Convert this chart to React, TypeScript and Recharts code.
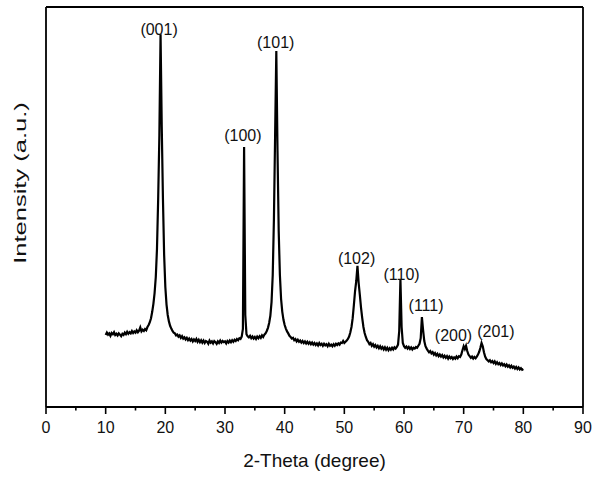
import React from "react";
import {
  LineChart,
  Line,
  XAxis,
  YAxis,
  ReferenceLine,
  ReferenceDot,
} from "recharts";

// scan starts at 10 deg, one reading every 0.2 deg
const scanStart = 10;
const scanStep = 0.2;

// intensity (a.u.), split per 10 degrees
const scan10to20 = [
  180, 186, 181, 184, 178, 185, 182, 187, 180, 183,
  179, 184, 181, 177, 183, 180, 186, 182, 188, 183,
  187, 184, 190, 185, 189, 186, 192, 187, 191, 199,
  189, 193, 190, 195, 192, 200, 205, 212, 222, 238,
  258, 285, 325, 395, 520, 680, 932, 700, 520, 380,
];
const scan20to30 = [
  300, 256, 230, 214, 203, 196, 190, 186, 184, 179,
  181, 176, 179, 173, 177, 171, 174, 169, 173, 167,
  171, 166, 170, 164, 169, 165, 170, 163, 168, 162,
  167, 161, 166, 160, 165, 163, 158, 166, 161, 164,
  159, 165, 162, 158, 164, 160, 166, 161, 165, 162,
];
const scan30to40 = [
  164, 159, 165, 161, 166, 162, 167, 163, 168, 165,
  170, 167, 172, 170, 176, 195, 650, 230, 182, 177,
  174, 178, 172, 176, 171, 175, 170, 176, 172, 177,
  173, 179, 175, 181, 184, 190, 198, 210, 228, 262,
  330, 470, 680, 890, 640, 440, 330, 270, 238, 218,
];
const scan40to50 = [
  205, 196, 189, 184, 178, 175, 171, 173, 167, 170,
  164, 168, 163, 166, 161, 165, 160, 164, 159, 163,
  158, 162, 157, 161, 156, 160, 155, 159, 154, 160,
  155, 158, 153, 158, 154, 157, 152, 158, 153, 156,
  152, 157, 153, 158, 155, 159, 156, 161, 160, 165,
];
const scan50to60 = [
  160, 163, 166, 170, 176, 186, 200, 222, 255, 290,
  315, 353, 310, 280, 248, 222, 200, 185, 175, 167,
  163, 157, 160, 153, 157, 151, 155, 149, 153, 147,
  152, 146, 150, 144, 149, 143, 148, 142, 147, 143,
  148, 144, 149, 146, 150, 156, 190, 320, 200, 160,
];
const scan60to70 = [
  152, 148, 151, 146, 150, 145, 149, 144, 148, 146,
  150, 148, 153, 158, 172, 225, 192, 165, 152, 146,
  141, 137, 140, 134, 137, 131, 135, 129, 133, 127,
  131, 126, 130, 124, 128, 123, 127, 121, 126, 122,
  125, 120, 124, 121, 126, 122, 127, 125, 131, 142,
];
const scan70to80 = [
  152, 145, 153, 140, 131, 127, 123, 126, 121, 125,
  122, 126, 131, 138, 148, 160, 152, 137, 126, 120,
  117, 114, 117, 112, 115, 110, 114, 108, 112, 107,
  110, 105, 109, 104, 107, 102, 106, 101, 104, 99,
  103, 98, 101, 96, 100, 95, 99, 94, 97, 93,
  95,
];

const intensity = [
  ...scan10to20,
  ...scan20to30,
  ...scan30to40,
  ...scan40to50,
  ...scan50to60,
  ...scan60to70,
  ...scan70to80,
];

const data = intensity.map((v, i) => ({
  angle: +(scanStart + i * scanStep).toFixed(1),
  counts: v,
}));

// reflections and where their labels sit (degree, intensity)
const peakNames = ["(001)", "(100)", "(101)", "(102)", "(110)", "(111)", "(200)", "(201)"];
const peakLabelAngle = [18.95, 33.0, 38.5, 52.05, 59.6, 63.7, 68.3, 75.4];
const peakLabelLevel = [945, 680, 912, 372, 332, 254, 180, 189];

const xTicks = [0, 5, 10, 15, 20, 25, 30, 35, 40, 45, 50, 55, 60, 65, 70, 75, 80, 85, 90];

const font = "'Liberation Sans', Arial, sans-serif";

const AngleTick = (props: any) => {
  const { x, y, payload } = props;
  const major = payload.value % 10 === 0;
  return (
    <g>
      <line x1={x} y1={y} x2={x} y2={y + (major ? 7 : 3.5)} stroke="#000" strokeWidth={1.6} />
      {major && (
        <text x={x} y={y + 20} dy="0.35em" textAnchor="middle" fontSize={16} fontFamily={font} fill="#111">
          {payload.value}
        </text>
      )}
    </g>
  );
};

// the y title in the figure is drawn stretched along its length
const IntensityTitle = () => (
  <text
    transform="translate(20 183) rotate(-90) scale(1.5 1)"
    textAnchor="middle"
    dominantBaseline="central"
    fontSize={17}
    fontFamily={font}
    fill="#111"
  >
    Intensity (a.u.)
  </text>
);

export default function App() {
  return (
    <div style={{ position: "absolute", left: 0, top: 0, background: "#fff" }}>
      <LineChart
        width={600}
        height={477}
        data={data}
        margin={{ top: 7, right: 17, bottom: 0, left: 0 }}
      >
        <XAxis
          dataKey="angle"
          type="number"
          domain={[0, 90]}
          ticks={xTicks}
          interval={0}
          tickSize={0}
          tickMargin={0}
          tickLine={false}
          tick={<AngleTick />}
          height={70}
          axisLine={{ stroke: "#000", strokeWidth: 1.8 }}
          label={{
            value: "2-Theta (degree)",
            position: "insideBottom",
            offset: 10,
            fontSize: 19,
            fontFamily: font,
            fill: "#111",
          }}
        />
        <YAxis
          type="number"
          domain={[0, 1000]}
          width={46}
          tick={false}
          tickLine={false}
          axisLine={{ stroke: "#000", strokeWidth: 1.8 }}
          label={<IntensityTitle />}
        />
        <ReferenceLine y={1000} stroke="#000" strokeWidth={1.8} />
        <ReferenceLine x={90} stroke="#000" strokeWidth={1.8} />
        <Line
          type="linear"
          dataKey="counts"
          stroke="#000"
          strokeWidth={2.2}
          dot={false}
          isAnimationActive={false}
        />
        {peakNames.map((name, i) => (
          <ReferenceDot
            key={name}
            x={peakLabelAngle[i]}
            y={peakLabelLevel[i]}
            r={0}
            fill="none"
            stroke="none"
            ifOverflow="visible"
            label={{
              value: name,
              position: "center",
              fontSize: 16,
              fontFamily: font,
              fill: "#111",
            }}
          />
        ))}
      </LineChart>
    </div>
  );
}
